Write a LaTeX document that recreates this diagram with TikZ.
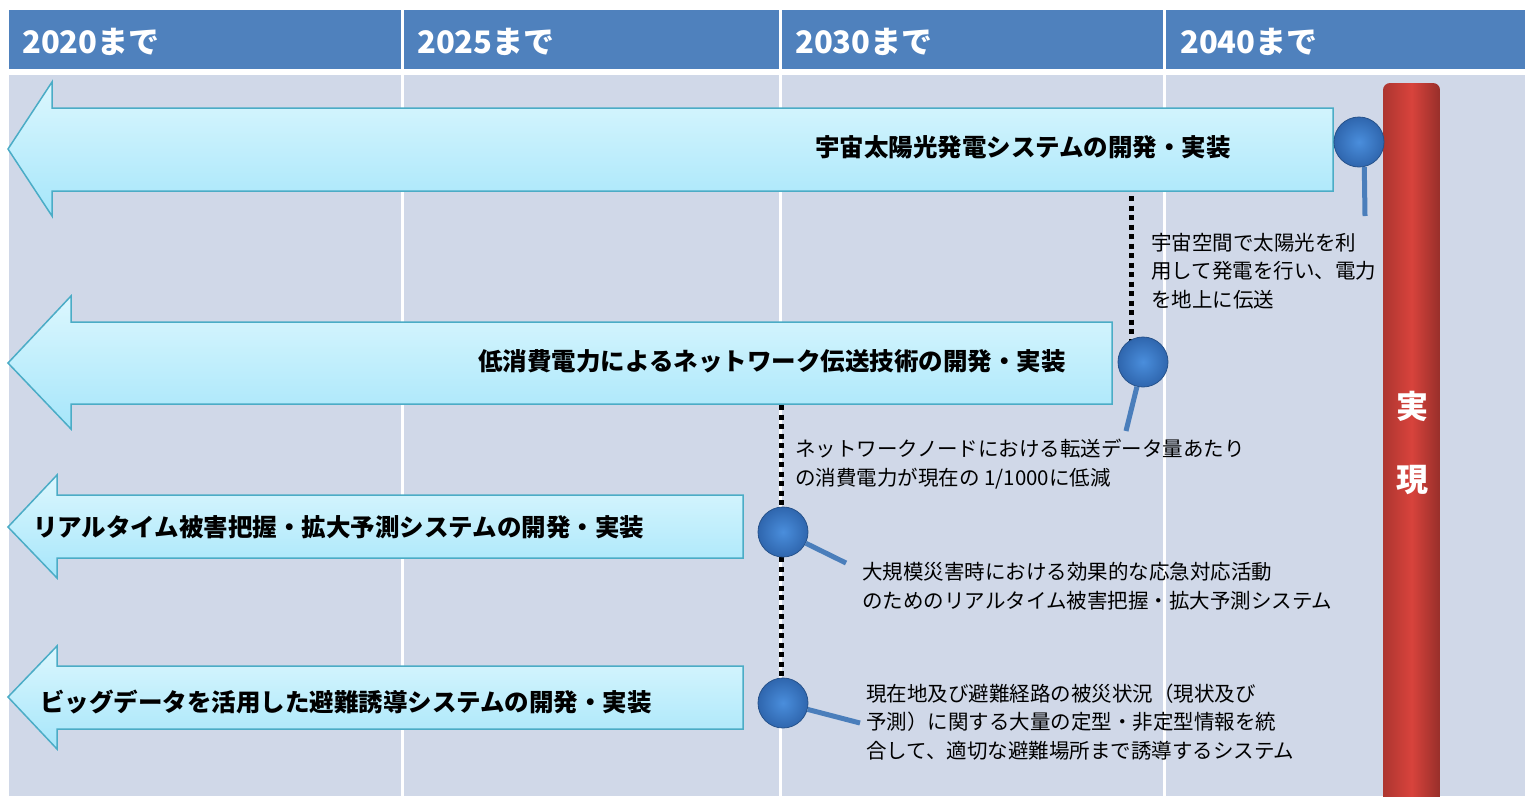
\documentclass[tikz,border=0pt]{standalone}
\usepackage{fontspec}
\setmainfont{Noto Sans CJK JP}
\usepackage{xcolor}
\usepackage{tikz}
\usetikzlibrary{positioning, calc}
\definecolor{headblue}{HTML}{4F81BD}
\definecolor{bodybg}{HTML}{D0D8E8}
\definecolor{arrtop}{HTML}{DCF7FE}
\definecolor{arrbot}{HTML}{A6E6FA}
\definecolor{arrline}{HTML}{4BACC6}
\definecolor{pinblue}{HTML}{2F66AE}
\definecolor{pinlight}{HTML}{4A8EDC}
\definecolor{stemblue}{HTML}{4A7EBB}
\definecolor{barred}{HTML}{D8433C}

\begin{document}
\begin{tikzpicture}[x=1pt, y=-1pt,
  yearlbl/.style={anchor=west, text=white, font=\fontsize{31}{36}\selectfont\bfseries, inner sep=0pt},
  arrowbody/.style={top color=arrtop, bottom color=arrbot, draw=arrline, line width=1.5pt},
  arrowlbl/.style={font=\fontsize{24.5}{30}\selectfont\bfseries, inner sep=0pt},
  pin/.style={circle, minimum size=50pt, inner sep=0pt, draw=pinblue!80!black, line width=0.8pt, inner color=pinlight, outer color=pinblue},
  stem/.style={draw=stemblue, line width=5pt},
  milestone/.style={draw=black, line width=5pt, dash pattern=on 5pt off 4.5pt},
  desc/.style={anchor=west, align=left, font=\fontsize{20.5}{28.5}\selectfont, inner sep=0pt},
  realize/.style={text=white, font=\fontsize{32}{36}\selectfont\bfseries, inner sep=0pt}]
  \useasboundingbox (0,0) rectangle (1525,796);
  \fill[white] (0,0) rectangle (1525,796);
  % ================================================================
  % header and background grid
  % ================================================================
  \fill[headblue] (9,10) rectangle (1525,69);
  \fill[bodybg] (9,75) rectangle (1525,796);
  \foreach \x in {402, 780, 1164} {
    \fill[white] (\x-1.5,10) rectangle (\x+1.5,796);
  }
  \node[yearlbl] (yr2020) at (22,42) {2020まで};
  \node[yearlbl] (yr2025) at (417,42) {2025まで};
  \node[yearlbl] (yr2030) at (795,42) {2030まで};
  \node[yearlbl] (yr2040) at (1180,42) {2040まで};
  % ================================================================
  % development arrows
  % ================================================================
  \shade[arrowbody] (1333,108) -- (52,108) -- (52,82) -- (8,149) -- (52,216) -- (52,191) -- (1333,191) -- cycle;
  \shade[arrowbody] (1112,322) -- (71,322) -- (71,296) -- (8,363) -- (71,429) -- (71,404) -- (1112,404) -- cycle;
  \shade[arrowbody] (743,495) -- (57,495) -- (57,475) -- (8,527) -- (57,578) -- (57,558) -- (743,558) -- cycle;
  \shade[arrowbody] (743,666) -- (57,666) -- (57,646) -- (8,697) -- (57,749) -- (57,729) -- (743,729) -- cycle;
  % labels ---------------------------------------------------------
  \node[arrowlbl] (lblspace) at (1023,147) {宇宙太陽光発電システムの開発・実装};
  \node[arrowlbl] (lblnet) at (772,361) {低消費電力によるネットワーク伝送技術の開発・実装};
  \node[arrowlbl, anchor=west] (lbldamage) at (33,527) {リアルタイム被害把握・拡大予測システムの開発・実装};
  \node[arrowlbl, anchor=west] (lblevac) at (40,702) {ビッグデータを活用した避難誘導システムの開発・実装};
  % ================================================================
  % realization bar
  % ================================================================
  \shade[rounded corners=7pt, left color=barred!80!black, right color=barred!70!black, middle color=barred] (1383,815) -- (1383,83) -- (1440,83) -- (1440,815) -- cycle;
  \node[realize] (real1) at (1412,406) {実};
  \node[realize] (real2) at (1412,480) {現};
  % ================================================================
  % milestones
  % ================================================================
  \coordinate (msnettop) at (1131,196);
  \coordinate (msnetbot) at (1131,350);
  \coordinate (msdmgtop) at (781,405);
  \coordinate (msdmgbot) at (781,690);
  \draw[milestone] (msnettop) -- (msnetbot);
  \draw[milestone] (msdmgtop) -- (msdmgbot);
  % pins -----------------------------------------------------------
  \node[pin] (pinspace) at (1359,142) {};
  \node[pin] (pinnet) at (1143,362) {};
  \node[pin] (pindamage) at (783,532) {};
  \node[pin] (pinevac) at (783,703) {};
  \coordinate (endspace) at (1365,216);
  \coordinate (endnet) at (1126,431);
  \coordinate (enddamage) at (846,563);
  \coordinate (endevac) at (860,723);
  \draw[stem] (pinspace.-78) -- (endspace);
  \draw[stem] (pinnet) -- (endnet);
  \draw[stem] (pindamage) -- (enddamage);
  \draw[stem] (pinevac) -- (endevac);
  % descriptions ---------------------------------------------------
  \node[desc] (descspace) at (1151,271) {宇宙空間で太陽光を利\\用して発電を行い、電力\\を地上に伝送};
  \node[desc] (descnet) at (795,464) {ネットワークノードにおける転送データ量あたり\\の消費電力が現在の 1/1000に低減};
  \node[desc] (descdamage) at (862,586) {大規模災害時における効果的な応急対応活動\\のためのリアルタイム被害把握・拡大予測システム};
  \node[desc] (descevac) at (866,722) {現在地及び避難経路の被災状況（現状及び\\予測）に関する大量の定型・非定型情報を統\\合して、適切な避難場所まで誘導するシステム};
\end{tikzpicture}
\end{document}
